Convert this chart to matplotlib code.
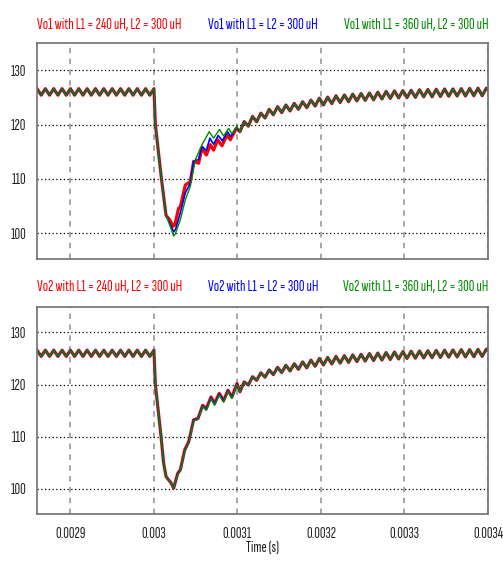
import numpy as np
import matplotlib.pyplot as plt

plt.rcParams["font.family"] = ["Sofia Sans Extra Condensed", "DejaVu Sans"]
plt.rcParams["font.size"] = 11.3

RED = "#ff0000"
BLUE = "#0000ff"
GREEN = "#008a00"
FS = 11.3

# ripple before the load step, peaks every 10 us (same for all traces)
pre_t = 0.00286 + np.arange(29) * 5e-6
pre_v = [126.6, 125.4, 126.6, 125.4, 126.6, 125.4, 126.6, 125.4, 126.6, 125.4,
         126.6, 125.4, 126.6, 125.4, 126.6, 125.4, 126.6, 125.4, 126.6, 125.4,
         126.6, 125.4, 126.6, 125.4, 126.6, 125.4, 126.6, 125.4, 126.6]

# --- Vo1 transient ---
vo1_red_t = [0.0030017, 0.0030090, 0.0030145, 0.0030190, 0.0030228, 0.0030250,
             0.0030295, 0.0030316, 0.0030376, 0.0030435, 0.0030475, 0.0030535,
             0.0030575, 0.0030627, 0.0030675, 0.0030714, 0.0030762, 0.0030815,
             0.0030874, 0.0030914, 0.0030986]
vo1_red_v = [120.0, 110.0, 103.3, 102.5, 101.3, 101.6, 104.6, 104.9, 108.9, 109.5,
             113.2, 112.9, 115.7, 114.4, 116.3, 115.3, 117.2, 116.1, 118.1, 117.2,
             119.3]
vo1_blue_t = [0.0030017, 0.0030090, 0.0030145, 0.0030200, 0.0030236, 0.0030260,
              0.0030316, 0.0030376, 0.0030435, 0.0030475, 0.0030535, 0.0030575,
              0.0030627, 0.0030670, 0.0030714, 0.0030770, 0.0030820, 0.0030880,
              0.0030920, 0.0030990]
vo1_blue_v = [120.0, 110.0, 103.3, 101.5, 100.3, 100.8, 103.8, 107.5, 109.2, 113.3,
              113.6, 116.0, 115.2, 117.5, 116.4, 118.0, 117.0, 118.7, 117.8, 119.5]
vo1_green_t = [0.0030017, 0.0030090, 0.0030145, 0.0030196, 0.0030236, 0.0030255,
               0.0030316, 0.0030376, 0.0030435, 0.0030494, 0.0030575, 0.0030662,
               0.0030714, 0.0030786, 0.0030834, 0.0030894, 0.0030934, 0.0030994]
vo1_green_v = [120.0, 110.0, 103.3, 101.25, 99.5, 99.9, 102.5, 106.2, 108.6, 113.5,
               116.3, 118.7, 117.5, 119.1, 117.9, 119.3, 118.3, 119.6]

# recovery ripple, peaks at 3.108 ms + k*10 us, troughs 5 us earlier
vo1_peaks = [120.55, 121.5, 122.1, 122.8, 123.3, 123.6, 123.9, 124.2, 124.5, 124.85,
             125.05, 125.3, 125.45, 125.6, 125.7, 125.8, 125.95, 126.1, 126.2, 126.25,
             126.3, 126.4, 126.45, 126.5, 126.55, 126.55, 126.6, 126.65, 126.7, 126.7]
vo1_troughs = [118.7, 119.7, 120.5, 121.2, 121.8, 122.2, 122.5, 122.8, 123.1, 123.4,
               123.6, 123.85, 124.05, 124.2, 124.35, 124.45, 124.55, 124.7, 124.8, 124.9,
               124.95, 125.0, 125.1, 125.1, 125.15, 125.2, 125.25, 125.25, 125.3, 125.3]

# --- Vo2 transient ---
vo2_red_t = [0.0030017, 0.0030085, 0.0030116, 0.0030145, 0.0030176, 0.0030200,
             0.0030236, 0.0030284, 0.0030316, 0.0030368, 0.0030416, 0.0030475,
             0.0030528, 0.0030583, 0.0030627, 0.0030683, 0.0030726, 0.0030782,
             0.0030834, 0.0030886, 0.0030934, 0.0030994]
vo2_red_v = [120.0, 110.0, 104.9, 102.3, 101.65, 101.2, 100.05, 102.9, 103.6, 107.4,
             109.0, 113.2, 113.5, 116.0, 115.4, 117.6, 116.4, 118.3, 116.9, 118.9,
             117.6, 120.2]
vo2_blue_v = [120.0, 110.0, 104.9, 102.3, 101.65, 101.2, 100.05, 102.8, 103.5, 107.3,
              108.9, 113.1, 113.4, 115.9, 115.2, 117.5, 116.2, 118.2, 116.8, 118.8,
              117.5, 120.1]
vo2_green_v = [120.0, 110.0, 104.9, 102.3, 101.65, 101.2, 100.05, 102.7, 103.4, 107.2,
               108.8, 113.0, 113.3, 115.8, 115.0, 117.3, 116.0, 118.0, 116.6, 118.7,
               117.3, 120.0]
vo2_peaks = [120.5, 121.5, 122.25, 122.8, 123.3, 123.7, 124.0, 124.35, 124.7, 125.0,
             125.2, 125.4, 125.55, 125.7, 125.8, 125.95, 126.05, 126.15, 126.25, 126.3,
             126.4, 126.45, 126.5, 126.55, 126.6, 126.65, 126.7, 126.7, 126.75, 126.8]
vo2_troughs = [118.6, 119.9, 120.8, 121.4, 121.9, 122.3, 122.6, 122.9, 123.2, 123.5,
               123.75, 123.95, 124.1, 124.25, 124.4, 124.5, 124.6, 124.7, 124.8, 124.9,
               125.0, 125.05, 125.1, 125.15, 125.2, 125.25, 125.3, 125.3, 125.35, 125.4]

peak_t = 0.003108 + np.arange(30) * 1e-5
trough_t = peak_t - 5e-6


def trace(tt, tv, peaks, troughs):
    post_t = np.ravel(np.column_stack([trough_t, peak_t]))
    post_v = np.ravel(np.column_stack([troughs, peaks]))
    t = np.concatenate([pre_t, tt, post_t, [0.0034]])
    v = np.concatenate([pre_v, tv, post_v, [peaks[-1] - 0.2]])
    return t, v


def style_axes(ax, ylim):
    ax.set_xlim(0.00286, 0.0034)
    ax.set_ylim(*ylim)
    ax.set_xticks([0.0029, 0.0030, 0.0031, 0.0032, 0.0033, 0.0034])
    ax.set_xticklabels(["0.0029", "0.003", "0.0031", "0.0032", "0.0033", "0.0034"])
    ax.set_yticks([100, 110, 120, 130])
    ax.tick_params(length=0, labelsize=FS, colors="#222222")
    ax.tick_params(axis="y", pad=8)
    ax.tick_params(axis="x", pad=9)
    ax.grid(axis="x", color="#a0a0a0", linestyle=(0, (3, 3)), linewidth=1.3)
    ax.grid(axis="y", color="black", linestyle=(0, (1, 2)), linewidth=0.9)
    ax.set_axisbelow(True)
    for s in ax.spines.values():
        s.set_color("#707070")
        s.set_linewidth(1.2)


fig = plt.figure(figsize=(5.03, 5.63), dpi=100)
ax1 = fig.add_axes([0.0736, 0.540, 0.8966, 0.3837])
ax2 = fig.add_axes([0.0736, 0.087, 0.8966, 0.3677])

ax1.plot(*trace(vo1_red_t, vo1_red_v, vo1_peaks, vo1_troughs), color=RED, lw=2.3)
ax1.plot(*trace(vo1_blue_t, vo1_blue_v, vo1_peaks, vo1_troughs), color=BLUE, lw=1.2)
ax1.plot(*trace(vo1_green_t, vo1_green_v, vo1_peaks, vo1_troughs), color=GREEN, lw=1.0)
style_axes(ax1, (95.3, 135.0))
ax1.tick_params(labelbottom=False)

ax2.plot(*trace(vo2_red_t, vo2_red_v, vo2_peaks, vo2_troughs), color=RED, lw=2.3)
ax2.plot(*trace(vo2_red_t, vo2_blue_v, vo2_peaks, vo2_troughs), color=BLUE, lw=1.2)
ax2.plot(*trace(vo2_red_t, vo2_green_v, vo2_peaks, vo2_troughs), color=GREEN, lw=1.0)
style_axes(ax2, (95.1, 134.9))
ax2.set_xlabel("Time (s)", fontsize=FS, labelpad=0, color="#222222")

for n, y in ((1, 0.9556), (2, 0.490)):
    fig.text(0.0736, y, f"Vo{n} with L1 = 240 uH, L2 = 300 uH", color=RED,
             fontsize=FS, va="center", ha="left")
    fig.text(0.4135, y, f"Vo{n} with L1 = L2 = 300 uH", color=BLUE,
             fontsize=FS, va="center", ha="left")
    fig.text(0.9702, y, f"Vo{n} with L1 = 360 uH, L2 = 300 uH", color=GREEN,
             fontsize=FS, va="center", ha="right")

fig.savefig("out.png", dpi=100)
